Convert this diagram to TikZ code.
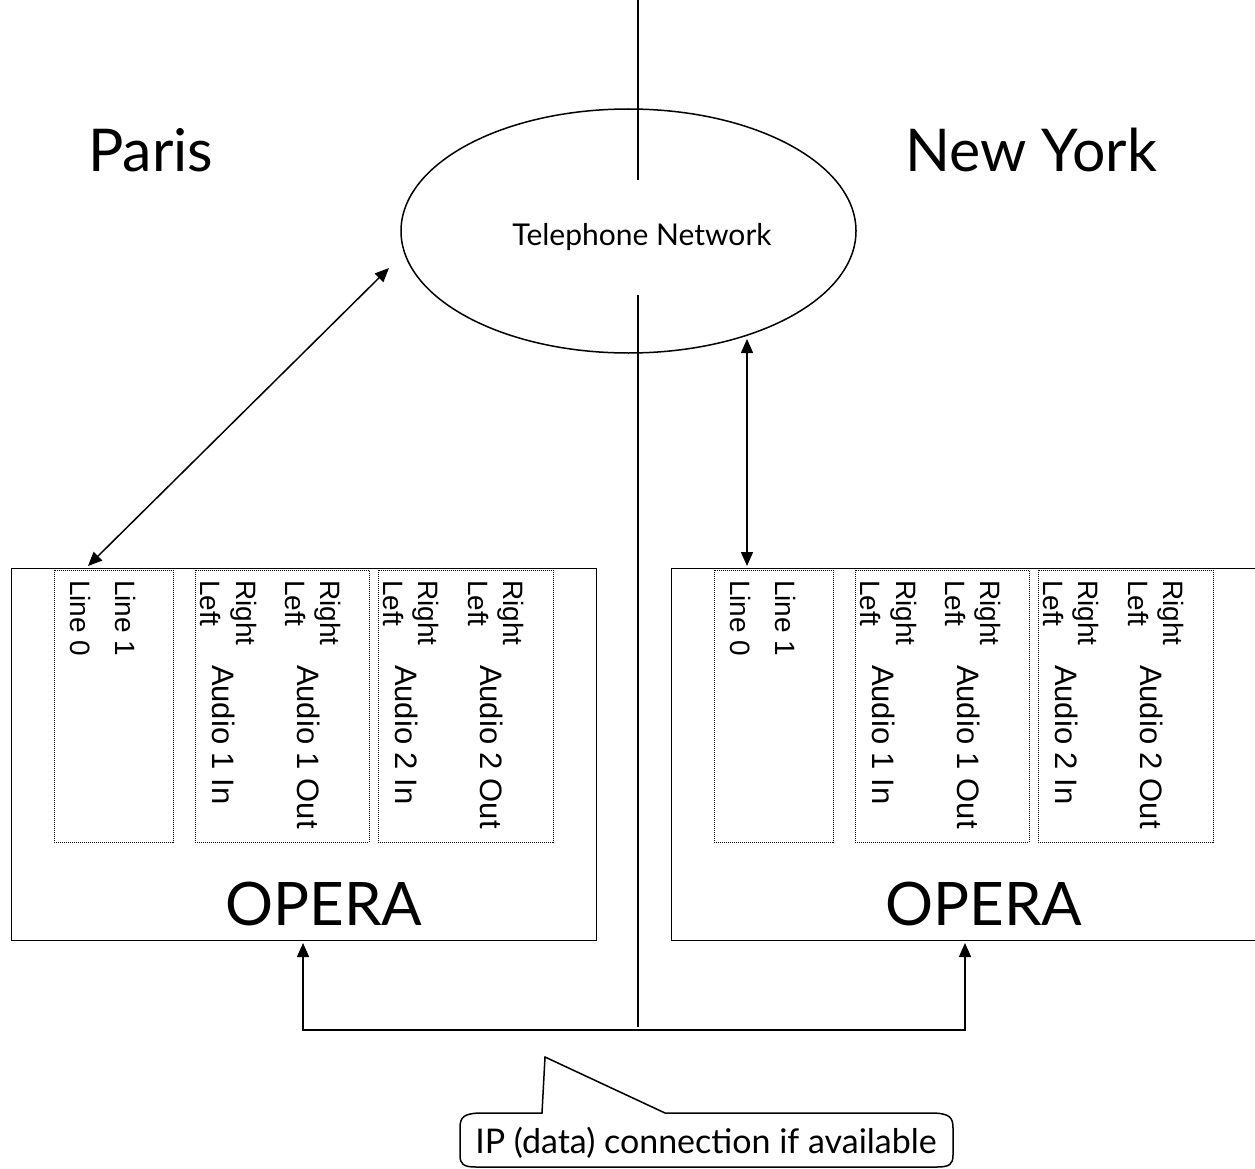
\documentclass[tikz,border=0pt]{standalone}
\usepackage{fontspec}
\setmainfont{Lato}
\newfontfamily\portfont{Liberation Sans}
\usetikzlibrary{arrows.meta,shapes.geometric}

\begin{document}
\begin{tikzpicture}[x=1pt,y=-1pt,
  unitbox/.style={draw, line width=1.4pt, rectangle, anchor=north west, inner sep=0pt,
    minimum width=585pt, minimum height=372pt},
  slot/.style={draw, line width=0.9pt, dash pattern=on 1pt off 1pt, rectangle,
    anchor=north west, inner sep=0pt, minimum height=272pt},
  portlbl/.style={font=\portfont\fontsize{28}{30}\selectfont, rotate=-90,
    anchor=base west, inner sep=0pt, outer sep=0pt},
  audiolbl/.style={portlbl, font=\portfont\fontsize{31}{33}\selectfont},
  citylbl/.style={font=\fontsize{59}{62}\selectfont, anchor=base west, inner sep=0pt},
  operalbl/.style={font=\fontsize{60}{64}\selectfont, anchor=base, inner sep=0pt},
  link/.style={line width=1.5pt, {Triangle[length=14pt,width=12pt]}-{Triangle[length=14pt,width=12pt]}},
  divider/.style={line width=1.6pt}
]
\useasboundingbox (0,0) rectangle (1255,1169);

% border between the two sites
\coordinate (divTop) at (638,0);
\coordinate (divA) at (638,180);
\coordinate (divB) at (638,295);
\coordinate (divEnd) at (638,1027);
\draw[divider] (divTop) -- (divA);
\draw[divider] (divB) -- (divEnd);

% telephone network
\node[draw, ellipse, line width=1.5pt, minimum width=455pt, minimum height=244pt, inner sep=0pt]
  (tel) at (628.5,231) {};
\node[font=\fontsize{30}{32}\selectfont, anchor=base, inner sep=0pt] (telText) at (642,245) {Telephone Network};

% site names
\node[citylbl] (paris) at (88,172) {Paris};
\node[citylbl] (newyork) at (905,172) {New York};

% the two OPERA units
\foreach \u/\dx in {L/0, R/660} {
  \begin{scope}[xshift=\dx pt]
    \node[unitbox] (\u box) at (11,568) {};
    \node[operalbl] (\u opera) at (324,925) {OPERA};
    \node[slot, minimum width=119pt] (\u lines) at (54,570) {};
    \node[slot, minimum width=174pt] (\u aone) at (195,570) {};
    \node[slot, minimum width=175pt] (\u atwo) at (378,570) {};
    % line inputs
    \node[portlbl] (\u line0) at (70,580) {Line 0};
    \node[portlbl] (\u line1) at (115,580) {Line 1};
    % audio 1
    \node[portlbl] (\u aiL) at (200,580) {Left};
    \node[portlbl] (\u aiR) at (236,580) {Right};
    \node[audiolbl] (\u ai) at (212,665) {Audio 1 In};
    \node[portlbl] (\u aoL) at (285,580) {Left};
    \node[portlbl] (\u aoR) at (320,580) {Right};
    \node[audiolbl] (\u ao) at (297,665) {Audio 1 Out};
    % audio 2
    \node[portlbl] (\u biL) at (383,580) {Left};
    \node[portlbl] (\u biR) at (418,580) {Right};
    \node[audiolbl] (\u bi) at (395,665) {Audio 2 In};
    \node[portlbl] (\u boL) at (468,580) {Left};
    \node[portlbl] (\u boR) at (503,580) {Right};
    \node[audiolbl] (\u bo) at (480,665) {Audio 2 Out};
  \end{scope}
}

% telephone links
\coordinate (parisLine) at (88,566);
\coordinate (telSW) at (389,268);
\coordinate (nyLine) at (747,566);
\coordinate (telSE) at (747,339);
\draw[link] (parisLine) -- (telSW);
\draw[link] (nyLine) -- (telSE);

% IP data link
\coordinate (ipL) at (303,943);
\coordinate (ipR) at (965,943);
\draw[link] (ipL) -- (303,1030) -- (965,1030) -- (ipR);

% callout
\node[font=\fontsize{34}{36}\selectfont, anchor=base, inner sep=0pt] (ipnote) at (706,1153)
  {IP (data) connection if available};
\draw[line width=1.5pt, line join=miter]
  (542,1113) -- (478,1113) .. controls (464,1114) and (460,1117) .. (460,1128)
  -- (460,1155) .. controls (460,1164) and (463,1167) .. (476,1167)
  -- (937,1167) .. controls (950,1167) and (953,1164) .. (953,1155)
  -- (953,1128) .. controls (953,1117) and (949,1114) .. (935,1113)
  -- (665,1113) -- (545,1057) -- cycle;
\end{tikzpicture}
\end{document}
